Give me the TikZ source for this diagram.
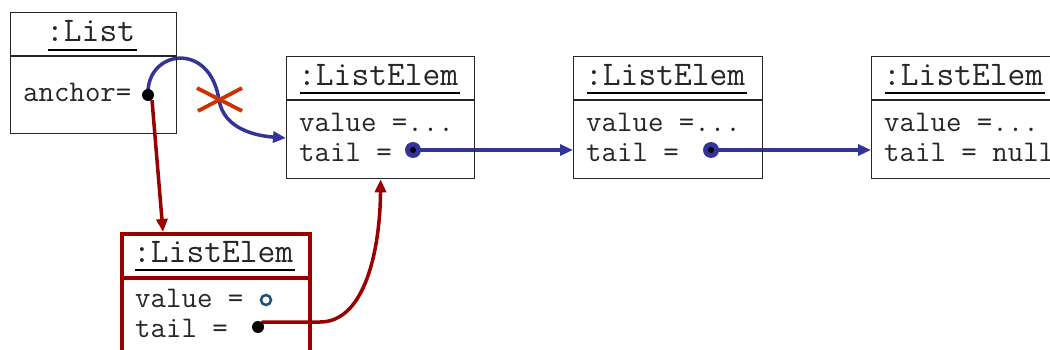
\documentclass[tikz,border=0pt]{standalone}
\usepackage{fontspec}
\usetikzlibrary{arrows.meta,calc,backgrounds}
\definecolor{linkblue}{HTML}{333399}
\definecolor{newred}{HTML}{990000}
\definecolor{crossred}{HTML}{CC3300}
\definecolor{ringblue}{HTML}{1F4E79}
\tikzset{
  objbox/.style={draw=black!85, line width=1.3pt, rectangle, inner sep=0pt, anchor=north west},
  newbox/.style={draw=newred, line width=4pt, rectangle, inner sep=0pt, anchor=north west},
  title/.style={anchor=base west, inner sep=0pt, font=\ttfamily\fontsize{34.5}{37}\selectfont, text=black!85},
  body/.style={anchor=base west, inner sep=0pt, font=\ttfamily\fontsize{30}{33}\selectfont, text=black!85},
  uline/.style={line width=2.2pt, black},
  blackdot/.style={circle, fill=black, inner sep=0pt, minimum size=12pt},
  bluedot/.style={circle, fill=linkblue, inner sep=0pt, minimum size=16pt,
    path picture={\fill[black] (path picture bounding box.center) circle (3pt);}},
  ring/.style={circle, draw=ringblue, line width=2.5pt, inner sep=0pt, minimum size=10pt},
  bluelink/.style={draw=linkblue, line width=3.5pt, -{Triangle[length=13pt,width=11pt]}},
  redlink/.style={draw=newred, line width=3.5pt, -{Triangle[length=13pt,width=11pt]}},
}
\begin{document}
\begin{tikzpicture}[x=1pt, y=-1pt]
\clip (0,0) rectangle (1050,350);

% :List object
\node[objbox, minimum width=166pt, minimum height=121pt] (list) at (10,12) {};
\draw[black!85, line width=1.3pt] (10,56) -- (176,56);
\node[title] (listtitle) at (46,42) {:List};
\draw[uline] (48,50) -- (137,50);
\node[body] (anchor) at (23,102) {anchor=};
\node[blackdot] (adot) at (148,95) {};

% first ListElem
\node[objbox, minimum width=188pt, minimum height=122pt] (e1) at (286,56) {};
\draw[black!85, line width=1.3pt] (286,100) -- (474,100);
\node[title] (e1title) at (298,86) {:ListElem};
\draw[uline] (300,93) -- (460,93);
\node[body] (e1value) at (299,132) {value =...};
\node[body] (e1tail) at (299,161) {tail =};
\node[bluedot] (e1dot) at (413,150) {};

% second ListElem
\node[objbox, minimum width=189pt, minimum height=122pt] (e2) at (573,56) {};
\draw[black!85, line width=1.3pt] (573,100) -- (762,100);
\node[title] (e2title) at (585,86) {:ListElem};
\draw[uline] (587,93) -- (747,93);
\node[body] (e2value) at (586,132) {value =...};
\node[body] (e2tail) at (586,161) {tail =};
\node[bluedot] (e2dot) at (711,150) {};

% third ListElem
\node[objbox, minimum width=200pt, minimum height=122pt] (e3) at (871,56) {};
\draw[black!85, line width=1.3pt] (871,100) -- (1071,100);
\node[title] (e3title) at (883,86) {:ListElem};
\draw[uline] (885,93) -- (1045,93);
\node[body] (e3value) at (884,132) {value =...};
\node[body] (e3tail) at (884,161) {tail = null};

% newly inserted ListElem
\node[newbox, minimum width=188pt, minimum height=140pt] (r) at (120,232) {};
\draw[newred, line width=4pt] (120,278) -- (308,278);
\node[title] (rtitle) at (133,262) {:ListElem};
\draw[uline] (135,270) -- (295,270);
\node[body] (rvalue) at (135,307) {value =};
\node[ring] (rring) at (266,300) {};
\node[body] (rtail) at (135,337) {tail =};
\node[blackdot] (rdot) at (258,327) {};

% references are drawn beneath the dots they start from
\begin{scope}[on background layer]
  % links of the list
  \draw[bluelink] (e1dot.center) -- (e2.west |- e1dot);
  \draw[bluelink] (e2dot.center) -- (e3.west |- e2dot);

  % old anchor link, crossed out
  \draw[bluelink] (adot.center) .. controls (146,50) and (210,40) .. (219,100)
    .. controls (224,130) and (258,136) .. ($(e1.north west)+(0,82)$);

  % new links through the inserted element
  \draw[redlink] ($(adot.center)+(4,5)$) -- ($(r.north west)+(43,0)$);
  \draw[redlink] (rdot.center) -- (263,322) -- (320,322)
    .. controls (365,322) and (380,250) .. (e1.south);
\end{scope}
\draw[crossred, line width=3.8pt] (197,88) -- (242,111);
\draw[crossred, line width=3.8pt] (198,111) -- (242,88);
\end{tikzpicture}
\end{document}
